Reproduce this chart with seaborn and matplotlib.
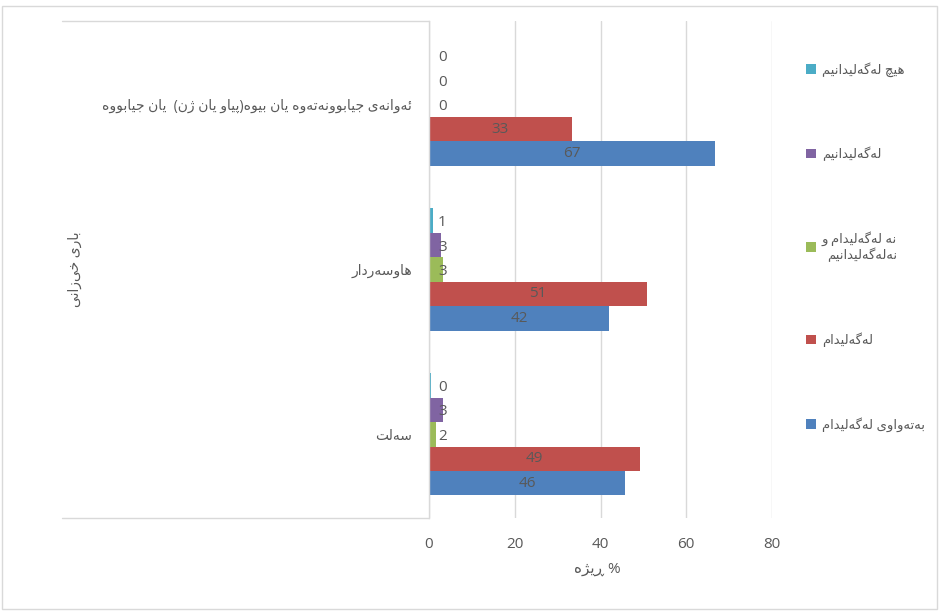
import pandas as pd
import seaborn as sns
import matplotlib.pyplot as plt
from matplotlib.patches import Rectangle

# data (percent)
categories = ['ئەوانەی جیابوونەتەوە یان بێوە(پیاو یان ژن)  یان جیابووە', 'هاوسەردار', 'سەڵت']
answers = ['هیچ لەگەڵیدانیم', 'لەگەڵیدانیم', 'نە لەگەڵیدام و نەلەگەڵیدانیم', 'لەگەڵیدام', 'بەتەواوی لەگەڵیدام']
strongly_disagree = [0.0, 0.9, 0.4]
disagree = [0.0, 2.9, 3.3]
neutral = [0.0, 3.2, 1.6]
agree = [33.3, 50.8, 49.2]
strongly_agree = [66.7, 42.0, 45.7]
colors = ['#4BACC6', '#8064A2', '#9BBB59', '#C0504D', '#4F81BD']
x_ticks = [0, 20, 40, 60, 80]
y_title = 'باری خێزانی'
x_title = 'ڕێژە'

# matplotlib has no arabic shaping, so map letters to presentation forms
FORMS = {
    'ئ': ('\uFE89', '\uFE8A', '\uFE8B', '\uFE8C'),
    'ا': ('\uFE8D', '\uFE8E'),
    'ب': ('\uFE8F', '\uFE90', '\uFE91', '\uFE92'),
    'ت': ('\uFE95', '\uFE96', '\uFE97', '\uFE98'),
    'ج': ('\uFE9D', '\uFE9E', '\uFE9F', '\uFEA0'),
    'خ': ('\uFEA5', '\uFEA6', '\uFEA7', '\uFEA8'),
    'د': ('\uFEA9', '\uFEAA'),
    'ر': ('\uFEAD', '\uFEAE'),
    'ڕ': ('\u0695', '\uFEAE'),
    'ژ': ('\uFB8A', '\uFB8B'),
    'س': ('\uFEB1', '\uFEB2', '\uFEB3', '\uFEB4'),
    'ل': ('\uFEDD', '\uFEDE', '\uFEDF', '\uFEE0'),
    'م': ('\uFEE1', '\uFEE2', '\uFEE3', '\uFEE4'),
    'ن': ('\uFEE5', '\uFEE6', '\uFEE7', '\uFEE8'),
    'ه': ('\uFEE9', '\uFEEA', '\uFEEB', '\uFEEC'),
    'و': ('\uFEED', '\uFEEE'),
    'ە': ('\u06D5', '\uFEEA'),
    'پ': ('\uFB56', '\uFB57', '\uFB58', '\uFB59'),
    'چ': ('\uFB7A', '\uFB7B', '\uFB7C', '\uFB7D'),
    'گ': ('\uFB92', '\uFB93', '\uFB94', '\uFB95'),
    'ی': ('\uFBFC', '\uFBFD', '\uFBFE', '\uFBFF'),
}
# no presentation forms exist for these, borrow the nearest letter's
MARKED = {'ڵ': 'ل', 'ێ': 'ی'}
MIRROR = {'(': ')', ')': '('}


def _base(c):
    return MARKED.get(c, c)


def _dual(c):
    return len(FORMS.get(_base(c), ())) == 4


def rtl(text):
    glyphs = []
    for i, c in enumerate(text):
        b = _base(c)
        if b not in FORMS:
            glyphs.append(MIRROR.get(c, c))
            continue
        prev = text[i - 1] if i > 0 else ''
        nxt = text[i + 1] if i + 1 < len(text) else ''
        jp = _dual(prev)
        jn = _dual(c) and _base(nxt) in FORMS
        f = FORMS[b]
        glyphs.append(f[3] if jp and jn else f[1] if jp else f[2] if jn else f[0])
    return ''.join(reversed(glyphs))


rows = []
for name, vals in zip(answers, [strongly_disagree, disagree, neutral, agree, strongly_agree]):
    for cat, v in zip(categories, vals):
        rows.append({'group': cat, 'answer': name, 'value': v})
df = pd.DataFrame(rows)

sns.set_style('white')
plt.rcParams['font.family'] = ['Open Sans', 'DejaVu Sans']
grey = '#595959'
line = '#d9d9d9'

fig = plt.figure(figsize=(9.39, 6.11), dpi=100)
ax = fig.add_axes([429 / 939, 1 - 518 / 611, 343 / 939, 497 / 611])

sns.barplot(data=df, x='value', y='group', hue='answer', order=categories, hue_order=answers,
            palette=colors, saturation=1, width=0.74, orient='h', errorbar=None,
            legend=False, linewidth=0, ax=ax)

ax.set_xlim(0, 80)
ax.set_xticks(x_ticks)
ax.set_xticklabels([str(t) for t in x_ticks])
ax.set_yticks(range(len(categories)))
ax.set_yticklabels([rtl(c) for c in categories])
ax.tick_params(axis='x', length=0, pad=14, labelsize=11, labelcolor=grey)
ax.tick_params(axis='y', length=0, pad=12, labelsize=10, labelcolor=grey)
ax.grid(axis='x', color=line, linewidth=1)
ax.grid(axis='y', visible=False)
ax.set_axisbelow(True)
for s in ['top', 'right', 'bottom']:
    ax.spines[s].set_visible(False)
ax.spines['left'].set_color(line)
ax.spines['left'].set_linewidth(1)

# box lines round the category labels
for yy in (0, 1):
    ax.plot([-1.07, 0], [yy, yy], transform=ax.transAxes, clip_on=False, color=line, lw=1)

# data labels: big series centred, small ones just past the base
for i, cont in enumerate(ax.containers):
    labels = ['{:.0f}'.format(v) for v in cont.datavalues]
    if i >= 3:
        ax.bar_label(cont, labels=labels, label_type='center', fontsize=11, color=grey)
    else:
        for bar, lab in zip(cont, labels):
            ax.annotate(lab, (0, bar.get_y() + bar.get_height() / 2), xytext=(9, -2),
                        textcoords='offset pixels', ha='left', va='center', fontsize=11, color=grey)

ax.set_xlabel(rtl(x_title) + ' %', fontsize=11, color=grey)
ax.xaxis.set_label_coords(0.49, -0.104)
ax.xaxis.label.set_va('center')
ax.set_ylabel(rtl(y_title), fontsize=10, color=grey)
ax.yaxis.set_label_coords(-1.03, 0.5)
ax.yaxis.label.set_va('center')

leg_labels = []
for a in answers:
    if a.startswith('نە '):
        leg_labels.append(rtl('نە لەگەڵیدام و') + '\n' + rtl('نەلەگەڵیدانیم'))
    else:
        leg_labels.append(rtl(a))
leg = ax.legend(ax.containers, leg_labels, loc='upper left', bbox_to_anchor=(806 / 939, 1 - 62 / 611),
                bbox_transform=fig.transFigure, frameon=False, fontsize=9.5, labelcolor=grey,
                handlelength=0.75, handleheight=0.75, handletextpad=0.45, labelspacing=5.3,
                borderpad=0, borderaxespad=0)
for t in leg.get_texts():
    t.set_multialignment('right')

fig.patches.append(Rectangle((0.002, 0.003), 0.996, 0.987, transform=fig.transFigure,
                             fill=False, edgecolor=line, linewidth=1))

fig.savefig('out.png', dpi=100)
